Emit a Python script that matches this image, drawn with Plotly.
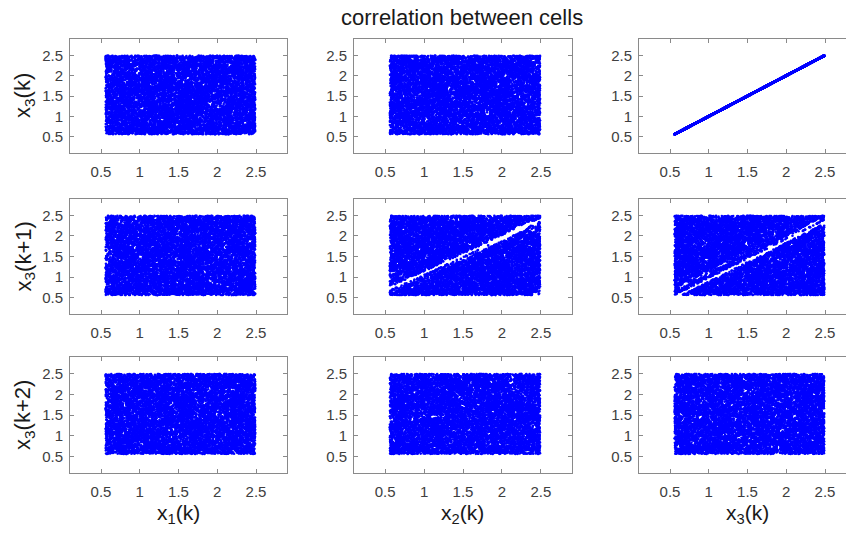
import plotly.graph_objects as go

# ---- chaotic three-cell map: state, parameters, labels ----
N_STEPS = 9000
CAT_MATRIX = [[1, 1, 1], [1, 2, 2], [1, 2, 3]]   # det = 1, area preserving
MODULUS = 2147483647
SEED_STATE = [912345671, 1543210987, 377215664]
U3_START = 0.5
X_LOW, X_SPAN = 0.56, 1.93                       # cell output range
GAP_HALF = 0.022                                 # forbidden band half-width
GAP_SELF = (0.946, -0.023)                       # x3(k+1) avoids a*x3(k)+b
GAP_CROSS = (0.87, 0.081)                        # x3(k+1) avoids a*x2(k)+b

TICKS = [0.5, 1, 1.5, 2, 2.5]
TICK_TEXT = ["0.5", "1", "1.5", "2", "2.5"]
COL_LABELS = ["x<sub>1</sub>(k)", "x<sub>2</sub>(k)", "x<sub>3</sub>(k)"]
ROW_LABELS = ["x<sub>3</sub>(k)", "x<sub>3</sub>(k+1)", "x<sub>3</sub>(k+2)"]
TITLE = "correlation between cells"

W, H = 846, 533
COL_PX = [(70, 287), (354, 572), (639, 856)]
ROW_PX = [(39, 153), (199, 314), (357, 473)]
AX_RANGE = (0.1, 2.9)
BLUE = "#0000ff"
GRID_GREY = "#8a8a8a"
TEXT_GREY = "#404040"
FONT = "Liberation Sans, Arial, Helvetica, sans-serif"


def remap(c, holes):
    """Map c in [0,1) uniformly onto [0,1) with the given intervals removed."""
    clipped = sorted((max(0.0, lo), min(1.0, hi)) for lo, hi in holes if hi > 0 and lo < 1)
    merged = []
    for lo, hi in clipped:
        if merged and lo <= merged[-1][1]:
            merged[-1][1] = max(merged[-1][1], hi)
        else:
            merged.append([lo, hi])
    segs, prev = [], 0.0
    for lo, hi in merged:
        if lo > prev:
            segs.append((prev, lo))
        prev = hi
    if prev < 1.0:
        segs.append((prev, 1.0))
    t = c * sum(b - a for a, b in segs)
    for a, b in segs:
        if t <= b - a:
            return a + t
        t -= b - a
    return segs[-1][1]


def simulate():
    p, q, r = SEED_STATE
    u3 = U3_START
    s1, s2, s3 = [], [], []
    m = CAT_MATRIX
    for _ in range(N_STEPS + 2):
        u1, u2, c = p / MODULUS, q / MODULUS, r / MODULUS
        s1.append(u1)
        s2.append(u2)
        s3.append(u3)
        g_self = GAP_SELF[0] * u3 + GAP_SELF[1]
        g_cross = GAP_CROSS[0] * u2 + GAP_CROSS[1]
        u3 = remap(c, [(g_self - GAP_HALF, g_self + GAP_HALF),
                       (g_cross - GAP_HALF, g_cross + GAP_HALF)])
        p, q, r = ((m[0][0] * p + m[0][1] * q + m[0][2] * r) % MODULUS,
                   (m[1][0] * p + m[1][1] * q + m[1][2] * r) % MODULUS,
                   (m[2][0] * p + m[2][1] * q + m[2][2] * r) % MODULUS)
    scale = lambda seq: [X_LOW + X_SPAN * v for v in seq]
    return scale(s1), scale(s2), scale(s3)


x1, x2, x3 = simulate()
col_series = [x1[:N_STEPS], x2[:N_STEPS], x3[:N_STEPS]]
row_series = [x3[:N_STEPS], x3[1:N_STEPS + 1], x3[2:N_STEPS + 2]]

fig = go.Figure()
layout = {}
for r in range(3):
    for c in range(3):
        n = r * 3 + c + 1
        sfx = "" if n == 1 else str(n)
        fig.add_trace(go.Scatter(
            x=col_series[c], y=row_series[r], mode="markers",
            marker=dict(color=BLUE, size=2.6, line=dict(width=0)),
            xaxis="x" + sfx, yaxis="y" + sfx, showlegend=False,
            hoverinfo="skip"))
        left, right = COL_PX[c]
        top, bot = ROW_PX[r]
        x_hi = AX_RANGE[1]
        if right > W:
            x_hi = AX_RANGE[0] + (AX_RANGE[1] - AX_RANGE[0]) * (W - left) / (right - left)
            right = W
        common = dict(tickvals=TICKS, ticktext=TICK_TEXT, ticks="inside", ticklen=4,
                      tickcolor=GRID_GREY, showline=True, linecolor=GRID_GREY,
                      linewidth=1, showgrid=False, zeroline=False,
                      tickfont=dict(family=FONT, size=15, color=TEXT_GREY))
        layout["xaxis" + sfx] = dict(common, domain=[left / W, right / W],
                                     range=[AX_RANGE[0], x_hi], anchor="y" + sfx,
                                     mirror="ticks", ticklabelstandoff=5)
        layout["yaxis" + sfx] = dict(common, domain=[1 - bot / H, 1 - top / H],
                                     range=list(AX_RANGE), anchor="x" + sfx,
                                     mirror=("ticks" if c < 2 else False),
                                     ticklabelstandoff=3)

annotations = [dict(text=TITLE, x=462 / W, y=1 - 18 / H, xref="paper", yref="paper",
                    showarrow=False, xanchor="center", yanchor="middle",
                    font=dict(family=FONT, size=22, color="#1a1a1a"))]
for c, lab in enumerate(COL_LABELS):
    cx = (COL_PX[c][0] + COL_PX[c][1]) / 2
    annotations.append(dict(text=lab, x=cx / W, y=1 - 514 / H, xref="paper", yref="paper",
                            showarrow=False, xanchor="center", yanchor="middle",
                            font=dict(family=FONT, size=21, color="#1a1a1a")))
for r, lab in enumerate(ROW_LABELS):
    cy = (ROW_PX[r][0] + ROW_PX[r][1]) / 2
    annotations.append(dict(text=lab, x=24 / W, y=1 - cy / H, xref="paper", yref="paper",
                            showarrow=False, xanchor="center", yanchor="middle",
                            textangle=-90,
                            font=dict(family=FONT, size=22, color="#1a1a1a")))

fig.update_layout(width=W, height=H, margin=dict(l=0, r=0, t=0, b=0),
                  paper_bgcolor="white", plot_bgcolor="white",
                  annotations=annotations, **layout)
fig.write_html("out.html")
